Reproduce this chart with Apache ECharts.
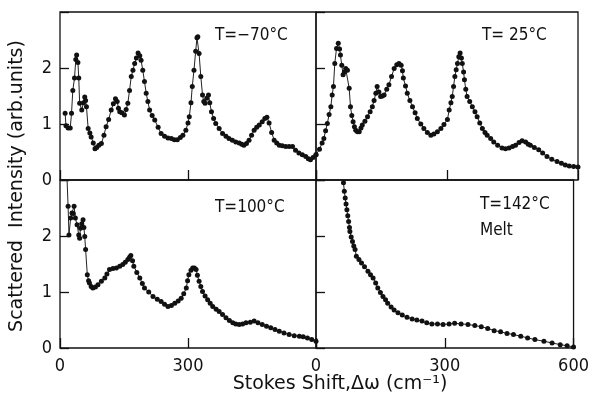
<!DOCTYPE html>
<html>
<head>
<meta charset="utf-8">
<script src="https://cdn.jsdelivr.net/npm/echarts@6/dist/echarts.min.js"></script>
<style>html,body{margin:0;padding:0;background:#fff}#c{width:592px;height:400px}</style>
</head>
<body>
<div id="c"></div>
<script>
// Panel titles
var panelLabels = ['T=\u221270\u00b0C', 'T= 25\u00b0C', 'T=100\u00b0C', 'T=142\u00b0C\nMelt'];
var xTicks = [0, 300, 600];
var yTicks = [0, 1, 2, 3];
// [Stokes shift (cm^-1), intensity (arb. units)]
var tMinus70 = [[12,1.19],[14,0.97],[19,0.93],[24,0.93],[27,1.19],[30,1.6],[34,1.82],[37,2.15],[39,2.23],[42,2.1],[44,1.82],[46,1.37],[51,1.25],[55,1.38],[58,1.48],[60,1.42],[62,1.31],[66,0.92],[70,0.84],[73,0.77],[78,0.66],[82,0.56],[86,0.58],[91,0.62],[97,0.65],[103,0.8],[108,0.95],[114,1.08],[120,1.25],[125,1.36],[130,1.45],[134,1.4],[137,1.28],[140,1.22],[145,1.2],[151,1.16],[155,1.26],[159,1.37],[163,1.6],[167,1.85],[171,1.96],[175,2.08],[179,2.18],[183,2.27],[187,2.22],[190,2.14],[194,1.96],[198,1.76],[202,1.55],[206,1.4],[210,1.25],[216,1.15],[222,1.07],[230,0.94],[237,0.83],[245,0.78],[253,0.75],[261,0.74],[268,0.72],[275,0.72],[282,0.76],[288,0.8],[295,0.89],[300,1.02],[303,1.13],[307,1.38],[310,1.67],[314,1.96],[318,2.3],[321,2.54],[323,2.56],[326,2.26],[330,1.85],[334,1.52],[337,1.4],[340,1.37],[344,1.46],[348,1.52],[351,1.38],[355,1.22],[360,1.1],[365,1.01],[373,0.92],[381,0.83],[389,0.78],[396,0.74],[404,0.71],[412,0.68],[420,0.66],[426,0.64],[431,0.62],[437,0.65],[443,0.71],[449,0.8],[455,0.89],[461,0.94],[467,0.98],[474,1.04],[480,1.1],[485,1.12],[490,1.02],[496,0.85],[502,0.71],[508,0.66],[514,0.62],[521,0.61],[529,0.6],[537,0.6],[545,0.6],[552,0.53],[560,0.48],[568,0.45],[576,0.42],[582,0.38],[587,0.36],[593,0.4],[600,0.45]];
var t25 = [[0,0.45],[8,0.55],[14,0.66],[18,0.74],[22,0.88],[26,1.01],[30,1.17],[34,1.31],[37,1.52],[40,1.67],[43,2.08],[47,2.35],[51,2.44],[54,2.34],[56,2.23],[59,2.05],[62,1.88],[65,1.93],[68,1.99],[72,1.96],[76,1.64],[79,1.31],[82,1.15],[85,1.04],[88,0.95],[91,0.89],[95,0.86],[99,0.86],[103,0.93],[106,0.98],[112,1.05],[118,1.13],[124,1.22],[129,1.31],[133,1.42],[137,1.55],[140,1.67],[144,1.57],[148,1.49],[152,1.5],[156,1.52],[162,1.62],[167,1.7],[173,1.85],[179,1.99],[185,2.06],[190,2.08],[195,2.05],[198,1.95],[200,1.82],[205,1.68],[209,1.55],[215,1.42],[221,1.31],[227,1.2],[232,1.1],[240,1.0],[247,0.92],[255,0.85],[263,0.8],[270,0.82],[278,0.86],[286,0.92],[293,0.99],[301,1.08],[305,1.25],[309,1.38],[312,1.49],[315,1.67],[318,1.85],[321,1.97],[324,2.08],[327,2.2],[330,2.27],[333,2.18],[335,2.08],[338,1.93],[340,1.79],[343,1.62],[346,1.49],[352,1.4],[358,1.31],[364,1.22],[369,1.13],[375,1.02],[381,0.92],[387,0.85],[392,0.8],[400,0.74],[407,0.68],[416,0.62],[426,0.57],[434,0.56],[442,0.57],[450,0.6],[457,0.62],[465,0.67],[472,0.7],[480,0.68],[486,0.64],[491,0.62],[500,0.58],[510,0.54],[519,0.48],[529,0.42],[540,0.37],[552,0.33],[562,0.3],[571,0.27],[580,0.25],[590,0.24],[600,0.23]];
var t100 = [[15,3.3],[19,2.53],[21,2.02],[25,2.32],[28,2.41],[31,2.4],[33,2.53],[36,2.32],[40,2.2],[44,2.02],[46,1.96],[48,2.14],[51,2.22],[54,2.29],[56,2.15],[58,1.99],[60,1.76],[64,1.31],[67,1.2],[69,1.16],[73,1.1],[77,1.07],[83,1.09],[89,1.13],[97,1.19],[105,1.25],[110,1.32],[116,1.4],[124,1.42],[132,1.43],[140,1.46],[147,1.49],[153,1.53],[159,1.58],[163,1.62],[166,1.65],[170,1.56],[173,1.46],[180,1.35],[187,1.25],[193,1.15],[198,1.07],[208,1.0],[218,0.92],[228,0.87],[237,0.83],[245,0.78],[253,0.74],[261,0.76],[269,0.8],[277,0.84],[284,0.89],[290,0.97],[296,1.07],[299,1.2],[302,1.31],[307,1.39],[311,1.43],[315,1.43],[319,1.4],[322,1.3],[326,1.19],[330,1.1],[334,1.01],[340,0.93],[346,0.86],[352,0.8],[358,0.74],[366,0.69],[373,0.65],[381,0.6],[389,0.54],[397,0.49],[405,0.45],[412,0.43],[420,0.42],[428,0.43],[436,0.45],[446,0.46],[455,0.48],[464,0.45],[474,0.42],[484,0.39],[494,0.36],[504,0.33],[514,0.3],[525,0.27],[537,0.24],[549,0.22],[561,0.21],[570,0.2],[580,0.18],[590,0.15],[600,0.12]];
var tMelt = [[62,3.1],[64,2.95],[66,2.8],[68,2.68],[70,2.57],[72,2.47],[74,2.36],[76,2.26],[78,2.15],[79,2.08],[82,1.98],[85,1.9],[88,1.82],[91,1.76],[94,1.64],[100,1.58],[106,1.52],[113,1.45],[121,1.37],[127,1.31],[133,1.25],[139,1.16],[144,1.07],[150,0.99],[156,0.92],[162,0.86],[167,0.8],[175,0.73],[182,0.68],[191,0.63],[201,0.59],[212,0.55],[224,0.52],[235,0.5],[247,0.48],[258,0.45],[270,0.43],[283,0.43],[296,0.42],[310,0.43],[323,0.44],[338,0.43],[354,0.42],[370,0.4],[385,0.38],[400,0.35],[415,0.31],[430,0.29],[445,0.26],[460,0.24],[477,0.21],[493,0.18],[510,0.15],[531,0.12],[550,0.09],[569,0.06],[585,0.04],[600,0.02]];

var FONT = '"DejaVu Sans Condensed","Liberation Sans Narrow","DejaVu Sans",sans-serif';
var TFONT = '"DejaVu Sans",sans-serif';
var chart = echarts.init(document.getElementById('c'), null, {renderer: 'canvas'});

var grids = [
  {left: 60, top: 12, width: 256, height: 168},
  {left: 316, top: 12, width: 262, height: 168},
  {left: 60, top: 180, width: 256, height: 168},
  {left: 316, top: 180, width: 262, height: 168}
].map(function (g) {
  return Object.assign({show: true, borderColor: '#111', borderWidth: 1.3, backgroundColor: 'transparent'}, g);
});

function xAxisFor(i) {
  var showLabels = i >= 2;
  return {
    type: 'value', gridIndex: i, min: xTicks[0], max: xTicks[xTicks.length - 1], interval: 300,
    axisLine: {show: false},
    axisTick: {show: true, inside: true, length: 10, lineStyle: {color: '#111', width: 1.3}},
    splitLine: {show: false},
    axisLabel: {
      show: showLabels, margin: 9, fontFamily: FONT, fontSize: 18, color: '#111',
      formatter: function (v) {
        if (i === 2 && v === 600) return '';
        return String(v);
      }
    }
  };
}
function yAxisFor(i) {
  var showLabels = (i === 0 || i === 2);
  return {
    type: 'value', gridIndex: i, min: yTicks[0], max: yTicks[yTicks.length - 1], interval: 1,
    axisLine: {show: false},
    axisTick: {show: true, inside: true, length: 9, lineStyle: {color: '#111', width: 1.3}},
    splitLine: {show: false},
    axisLabel: {
      show: showLabels, margin: 8, fontFamily: FONT, fontSize: 18, color: '#111',
      formatter: function (v) { return v === 3 ? '' : String(v); }
    }
  };
}
function seriesFor(i, data) {
  return {
    type: 'line', xAxisIndex: i, yAxisIndex: i, data: data,
    symbol: 'circle', symbolSize: 5, showSymbol: true, clip: true,
    itemStyle: {color: '#111'},
    lineStyle: {color: '#222', width: 1},
    emphasis: {disabled: true}, animation: false
  };
}

var labelPos = [[215, 33], [482, 33], [215, 205], [480, 202]];
var graphics = labelPos.map(function (p, k) {
  return {type: 'text', left: p[0], top: p[1] - 10, style: {text: panelLabels[k], font: '17px ' + FONT, fill: '#111', lineHeight: 26}};
});
graphics.push({type: 'text', x: 17, y: 186, rotation: Math.PI / 2,
  style: {text: 'Scattered  Intensity (arb.units)', font: '19px ' + TFONT, fill: '#111', align: 'center', verticalAlign: 'middle'}});
graphics.push({type: 'text', x: 340, y: 384,
  style: {text: 'Stokes Shift,\u0394\u03c9 (cm\u207b\u00b9)', font: '19px ' + TFONT, fill: '#111', align: 'center', verticalAlign: 'middle'}});

chart.setOption({
  animation: false,
  backgroundColor: '#fff',
  grid: grids,
  xAxis: [0, 1, 2, 3].map(xAxisFor),
  yAxis: [0, 1, 2, 3].map(yAxisFor),
  series: [seriesFor(0, tMinus70), seriesFor(1, t25), seriesFor(2, t100), seriesFor(3, tMelt)],
  graphic: graphics
});
</script>
</body>
</html>
